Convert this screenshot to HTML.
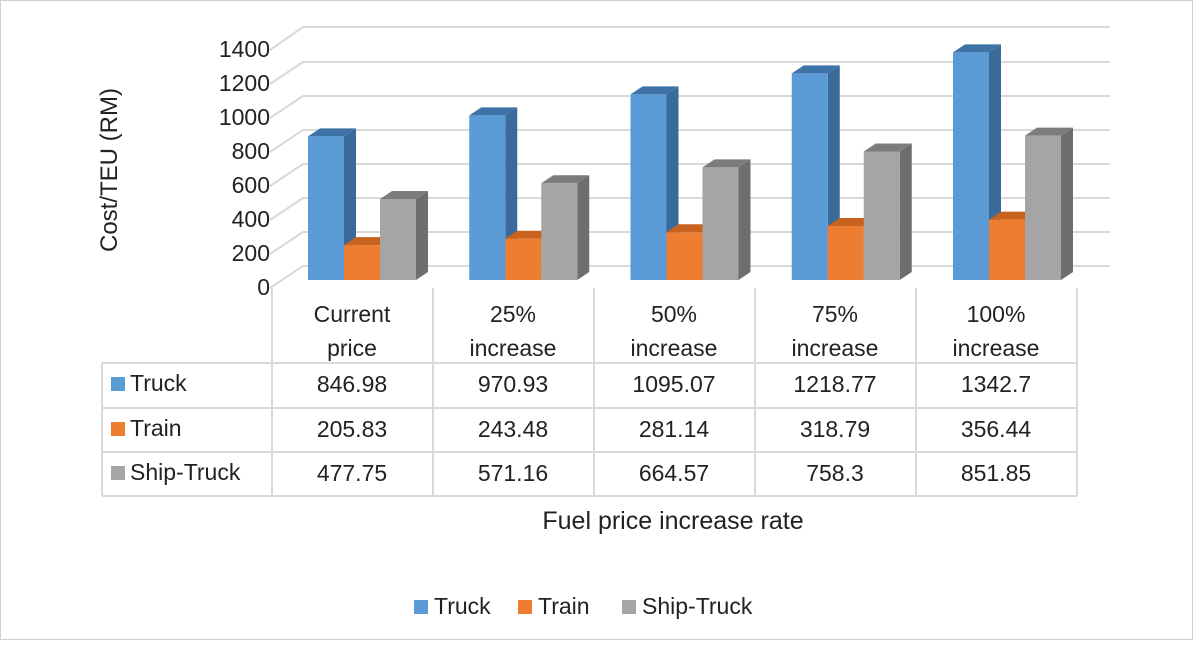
<!DOCTYPE html>
<html><head><style>
html,body{margin:0;padding:0;background:#fff}
svg text{font-family:"Liberation Sans","DejaVu Sans",sans-serif;fill:#222}
.b0 .s{fill:#3a6a9a}.b0 .t{fill:#3f73a8}.b0 rect{fill:#5b9bd5}
.b1 .s{fill:#b8571a}.b1 .t{fill:#c8621f}.b1 rect{fill:#ed7d31}
.b2 .s{fill:#6e6e6e}.b2 .t{fill:#7c7c7c}.b2 rect{fill:#a5a5a5}
</style></head><body>
<svg width="1194" height="640" viewBox="0 0 1194 640" xmlns="http://www.w3.org/2000/svg">
<rect x="0.5" y="0.5" width="1192" height="639" fill="#fff" stroke="#d0d0d0"/>
<g stroke="#d9d9d9" stroke-width="2" fill="none">
<path d="M303 27H1110M303 62H1110M303 96H1110M303 130H1110M303 164H1110M303 198H1110M303 232H1110M303 266H1110"/>
<path d="M270 50L303 27M270 84L303 62M270 118L303 96M270 152L303 130M270 186L303 164M270 220L303 198M270 254L303 232M270 288L303 266"/>
</g>
<!-- bars -->
<g class="b0" transform="translate(308,0)"><polygon class="s" points="36,136.4 48,128.4 48,272 36,280"/><polygon class="t" points="0,136.4 12,128.4 48,128.4 36,136.4"/><rect x="0" y="136.4" width="36" height="143.6"/></g>
<g class="b1" transform="translate(344,0)"><polygon class="s" points="36,245.1 48,237.1 48,272 36,280"/><polygon class="t" points="0,245.1 12,237.1 48,237.1 36,245.1"/><rect x="0" y="245.1" width="36" height="34.9"/></g>
<g class="b2" transform="translate(380,0)"><polygon class="s" points="36,199 48,191 48,272 36,280"/><polygon class="t" points="0,199 12,191 48,191 36,199"/><rect x="0" y="199" width="36" height="81"/></g>

<g class="b0" transform="translate(469.25,0)"><polygon class="s" points="36,115.4 48,107.4 48,272 36,280"/><polygon class="t" points="0,115.4 12,107.4 48,107.4 36,115.4"/><rect x="0" y="115.4" width="36" height="164.6"/></g>
<g class="b1" transform="translate(505.25,0)"><polygon class="s" points="36,238.7 48,230.7 48,272 36,280"/><polygon class="t" points="0,238.7 12,230.7 48,230.7 36,238.7"/><rect x="0" y="238.7" width="36" height="41.3"/></g>
<g class="b2" transform="translate(541.25,0)"><polygon class="s" points="36,183.2 48,175.2 48,272 36,280"/><polygon class="t" points="0,183.2 12,175.2 48,175.2 36,183.2"/><rect x="0" y="183.2" width="36" height="96.8"/></g>

<g class="b0" transform="translate(630.5,0)"><polygon class="s" points="36,94.4 48,86.4 48,272 36,280"/><polygon class="t" points="0,94.4 12,86.4 48,86.4 36,94.4"/><rect x="0" y="94.4" width="36" height="185.6"/></g>
<g class="b1" transform="translate(666.5,0)"><polygon class="s" points="36,232.3 48,224.3 48,272 36,280"/><polygon class="t" points="0,232.3 12,224.3 48,224.3 36,232.3"/><rect x="0" y="232.3" width="36" height="47.7"/></g>
<g class="b2" transform="translate(702.5,0)"><polygon class="s" points="36,167.4 48,159.4 48,272 36,280"/><polygon class="t" points="0,167.4 12,159.4 48,159.4 36,167.4"/><rect x="0" y="167.4" width="36" height="112.6"/></g>

<g class="b0" transform="translate(791.75,0)"><polygon class="s" points="36,73.4 48,65.4 48,272 36,280"/><polygon class="t" points="0,73.4 12,65.4 48,65.4 36,73.4"/><rect x="0" y="73.4" width="36" height="206.6"/></g>
<g class="b1" transform="translate(827.75,0)"><polygon class="s" points="36,226 48,218 48,272 36,280"/><polygon class="t" points="0,226 12,218 48,218 36,226"/><rect x="0" y="226" width="36" height="54"/></g>
<g class="b2" transform="translate(863.75,0)"><polygon class="s" points="36,151.5 48,143.5 48,272 36,280"/><polygon class="t" points="0,151.5 12,143.5 48,143.5 36,151.5"/><rect x="0" y="151.5" width="36" height="128.5"/></g>

<g class="b0" transform="translate(953,0)"><polygon class="s" points="36,52.4 48,44.4 48,272 36,280"/><polygon class="t" points="0,52.4 12,44.4 48,44.4 36,52.4"/><rect x="0" y="52.4" width="36" height="227.6"/></g>
<g class="b1" transform="translate(989,0)"><polygon class="s" points="36,219.6 48,211.6 48,272 36,280"/><polygon class="t" points="0,219.6 12,211.6 48,211.6 36,219.6"/><rect x="0" y="219.6" width="36" height="60.4"/></g>
<g class="b2" transform="translate(1025,0)"><polygon class="s" points="36,135.6 48,127.6 48,272 36,280"/><polygon class="t" points="0,135.6 12,127.6 48,127.6 36,135.6"/><rect x="0" y="135.6" width="36" height="144.4"/></g>

<!-- table -->
<g stroke="#d9d9d9" stroke-width="2" fill="none">
<path d="M272 288V496M433 288V496M594 288V496M755 288V496M916 288V496M1077 288V496"/>
<path d="M102 363H1077M102 408H1077M102 452H1077M102 496H1077M102 363V496"/>
</g>
<g font-size="23" text-anchor="middle">
<text x="352" y="322">Current</text><text x="352" y="356">price</text>
<text x="513" y="322">25%</text><text x="513" y="356">increase</text>
<text x="674" y="322">50%</text><text x="674" y="356">increase</text>
<text x="835" y="322">75%</text><text x="835" y="356">increase</text>
<text x="996" y="322">100%</text><text x="996" y="356">increase</text>
<text x="352" y="392">846.98</text><text x="513" y="392">970.93</text><text x="674" y="392">1095.07</text><text x="835" y="392">1218.77</text><text x="996" y="392">1342.7</text>
<text x="352" y="437">205.83</text><text x="513" y="437">243.48</text><text x="674" y="437">281.14</text><text x="835" y="437">318.79</text><text x="996" y="437">356.44</text>
<text x="352" y="481">477.75</text><text x="513" y="481">571.16</text><text x="674" y="481">664.57</text><text x="835" y="481">758.3</text><text x="996" y="481">851.85</text>
</g>
<g font-size="23">
<rect x="111" y="377" width="14" height="14" fill="#5b9bd5"/><text x="130" y="391">Truck</text>
<rect x="111" y="422" width="14" height="14" fill="#ed7d31"/><text x="130" y="436">Train</text>
<rect x="111" y="466" width="14" height="14" fill="#a5a5a5"/><text x="130" y="480">Ship-Truck</text>
</g>
<g font-size="23" text-anchor="end">
<text x="270" y="57">1400</text><text x="270" y="91">1200</text><text x="270" y="125">1000</text><text x="270" y="159">800</text>
<text x="270" y="193">600</text><text x="270" y="227">400</text><text x="270" y="261">200</text><text x="270" y="295">0</text>
</g>
<text x="0" y="0" font-size="24" text-anchor="middle" transform="translate(117,170) rotate(-90)">Cost/TEU (RM)</text>
<text x="673" y="529" font-size="25" text-anchor="middle">Fuel price increase rate</text>
<g font-size="23">
<rect x="414" y="600" width="14" height="14" fill="#5b9bd5"/><text x="434" y="614">Truck</text>
<rect x="518" y="600" width="14" height="14" fill="#ed7d31"/><text x="538" y="614">Train</text>
<rect x="622" y="600" width="14" height="14" fill="#a5a5a5"/><text x="642" y="614">Ship-Truck</text>
</g>
</svg>
</body></html>
